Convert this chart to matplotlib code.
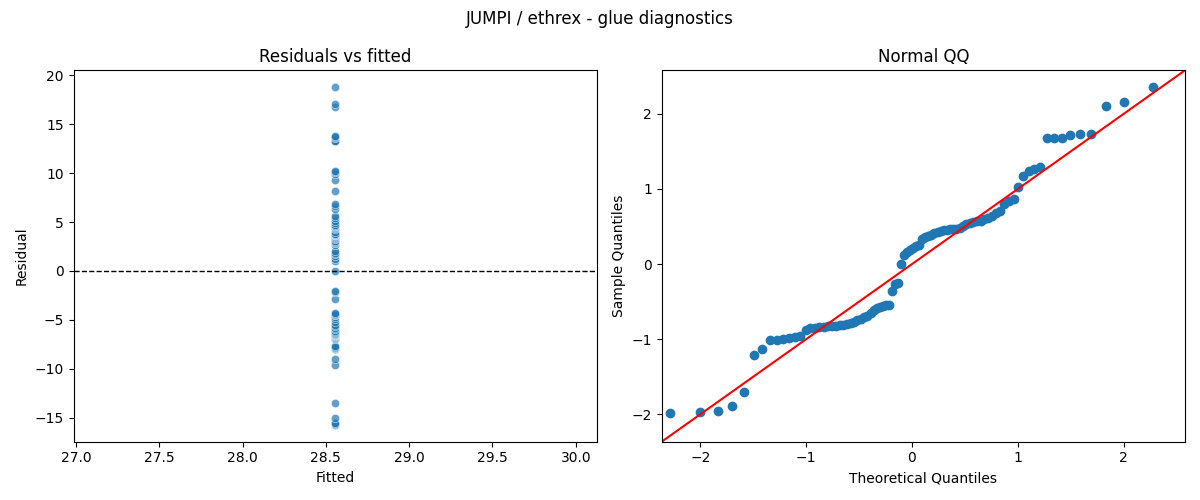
import numpy as np
import matplotlib
matplotlib.use("Agg")
import matplotlib.pyplot as plt
import seaborn as sns
from statistics import NormalDist

title = "JUMPI / ethrex - glue diagnostics"
fitted_value = 28.556
residuals = [
    -15.73, -15.61, -15.51, -15.06, -13.51, -9.60, -9.04, -8.01, -8.01, -7.91,
    -7.84, -7.76, -7.66, -7.00, -6.80, -6.72, -6.68, -6.62, -6.59, -6.56,
    -6.53, -6.49, -6.44, -6.36, -6.28, -6.13, -5.97, -5.81, -5.65, -5.49,
    -5.22, -4.86, -4.66, -4.54, -4.46, -4.38, -4.30, -2.88, -2.13, -2.01,
    0.01, 0.99, 1.24, 1.52, 1.71, 1.88, 2.07, 2.67, 2.87, 2.98,
    3.10, 3.26, 3.38, 3.49, 3.58, 3.63, 3.67, 3.70, 3.75, 3.83,
    4.01, 4.25, 4.39, 4.51, 4.56, 4.61, 4.75, 4.86, 5.08, 5.40,
    5.64, 6.35, 6.63, 6.87, 8.17, 9.28, 9.87, 10.08, 10.23, 13.32,
    13.32, 13.32, 13.64, 13.75, 13.77, 16.73, 17.12, 18.79,
]
qq_limits = (-2.365, 2.58)

res = np.array(residuals)
n = len(res)
fitted = np.full(n, fitted_value)

fig, (ax1, ax2) = plt.subplots(1, 2, figsize=(12, 5), dpi=100)

sns.scatterplot(x=fitted, y=res, ax=ax1, alpha=0.7)
ax1.axhline(0, color="black", linestyle="--", linewidth=1)
ax1.set_title("Residuals vs fitted")
ax1.set_xlabel("Fitted")
ax1.set_ylabel("Residual")

# Normal QQ (scaled residuals vs theoretical normal quantiles)
sample = np.sort(res / res.std())
nd = NormalDist()
theo = np.array([nd.inv_cdf(i / (n + 1)) for i in range(1, n + 1)])
ax2.plot(theo, sample, marker="o", linestyle="none",
         markerfacecolor="C0", markeredgecolor="C0")
ax2.plot(qq_limits, qq_limits, "r-")
ax2.set_xlim(qq_limits)
ax2.set_ylim(qq_limits)
ax2.set_title("Normal QQ")
ax2.set_xlabel("Theoretical Quantiles")
ax2.set_ylabel("Sample Quantiles")

fig.suptitle(title)
fig.tight_layout()
fig.savefig("out.png")
